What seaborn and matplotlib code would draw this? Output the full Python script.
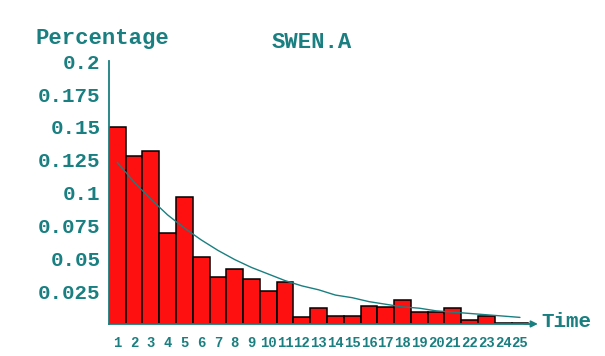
import numpy as np
import pandas as pd
import seaborn as sns
import matplotlib.pyplot as plt

# values
time = list(range(1, 26))
percentage = [0.150, 0.128, 0.132, 0.069, 0.097, 0.051, 0.036, 0.042, 0.034, 0.025,
              0.032, 0.005, 0.012, 0.006, 0.006, 0.014, 0.013, 0.018, 0.009, 0.009,
              0.012, 0.003, 0.006, 0.001, 0.001]
fitted = [0.123, 0.108, 0.095, 0.083, 0.073, 0.064, 0.056, 0.049, 0.043, 0.038,
          0.033, 0.029, 0.026, 0.022, 0.020, 0.017, 0.015, 0.013, 0.012, 0.010,
          0.009, 0.008, 0.007, 0.006, 0.005]
ytick_vals = [0.025, 0.05, 0.075, 0.1, 0.125, 0.15, 0.175, 0.2]
ytick_labels = ["0.025", "0.05", "0.075", "0.1", "0.125", "0.15", "0.175", "0.2"]

teal = "#1a7f80"
df = pd.DataFrame({"time": time, "pct": percentage, "fit": fitted})

sns.set_style("white")
plt.rcParams['font.family'] = ['Liberation Mono', 'DejaVu Sans']
plt.rcParams['font.weight'] = 'bold'

fig = plt.figure(figsize=(6.05, 3.56), dpi=100)
ax = fig.add_axes([0.180, 0.090, 0.703, 0.738])

sns.barplot(data=df, x="time", y="pct", native_scale=True, width=1.0,
            color="#ff1010", saturation=1, edgecolor="black", linewidth=1.1, ax=ax)
sns.lineplot(data=df, x="time", y="fit", color=teal, linewidth=1.0, ax=ax)

ax.set_xlim(0.5, 25.85)
ax.set_ylim(0, 0.2)
ax.set_xlabel("")
ax.set_ylabel("")
ax.set_xticks(time)
ax.set_xticklabels([str(t) for t in time], fontsize=10, color=teal)
ax.set_yticks(ytick_vals)
ax.set_yticklabels(ytick_labels, fontsize=15, color=teal)
ax.tick_params(axis="x", length=0, pad=9)
ax.tick_params(axis="y", length=3, direction="in", color=teal, pad=6)

for s in ["top", "right"]:
    ax.spines[s].set_visible(False)
ax.spines["left"].set_color(teal)
ax.spines["left"].set_linewidth(1.3)
ax.spines["bottom"].set_color(teal)
ax.spines["bottom"].set_linewidth(1.3)
ax.annotate("", xy=(1.015, 0), xytext=(0.97, 0), xycoords="axes fraction",
            arrowprops=dict(arrowstyle="-|>", color=teal, lw=1.2))

fig.text(0.058, 0.893, "Percentage", fontsize=16, color=teal, va="center")
fig.text(0.516, 0.882, "SWEN.A", fontsize=16, color=teal, ha="center", va="center")
fig.text(0.895, 0.098, "Time", fontsize=15, color=teal, va="center")

fig.savefig("out.png", dpi=100)
